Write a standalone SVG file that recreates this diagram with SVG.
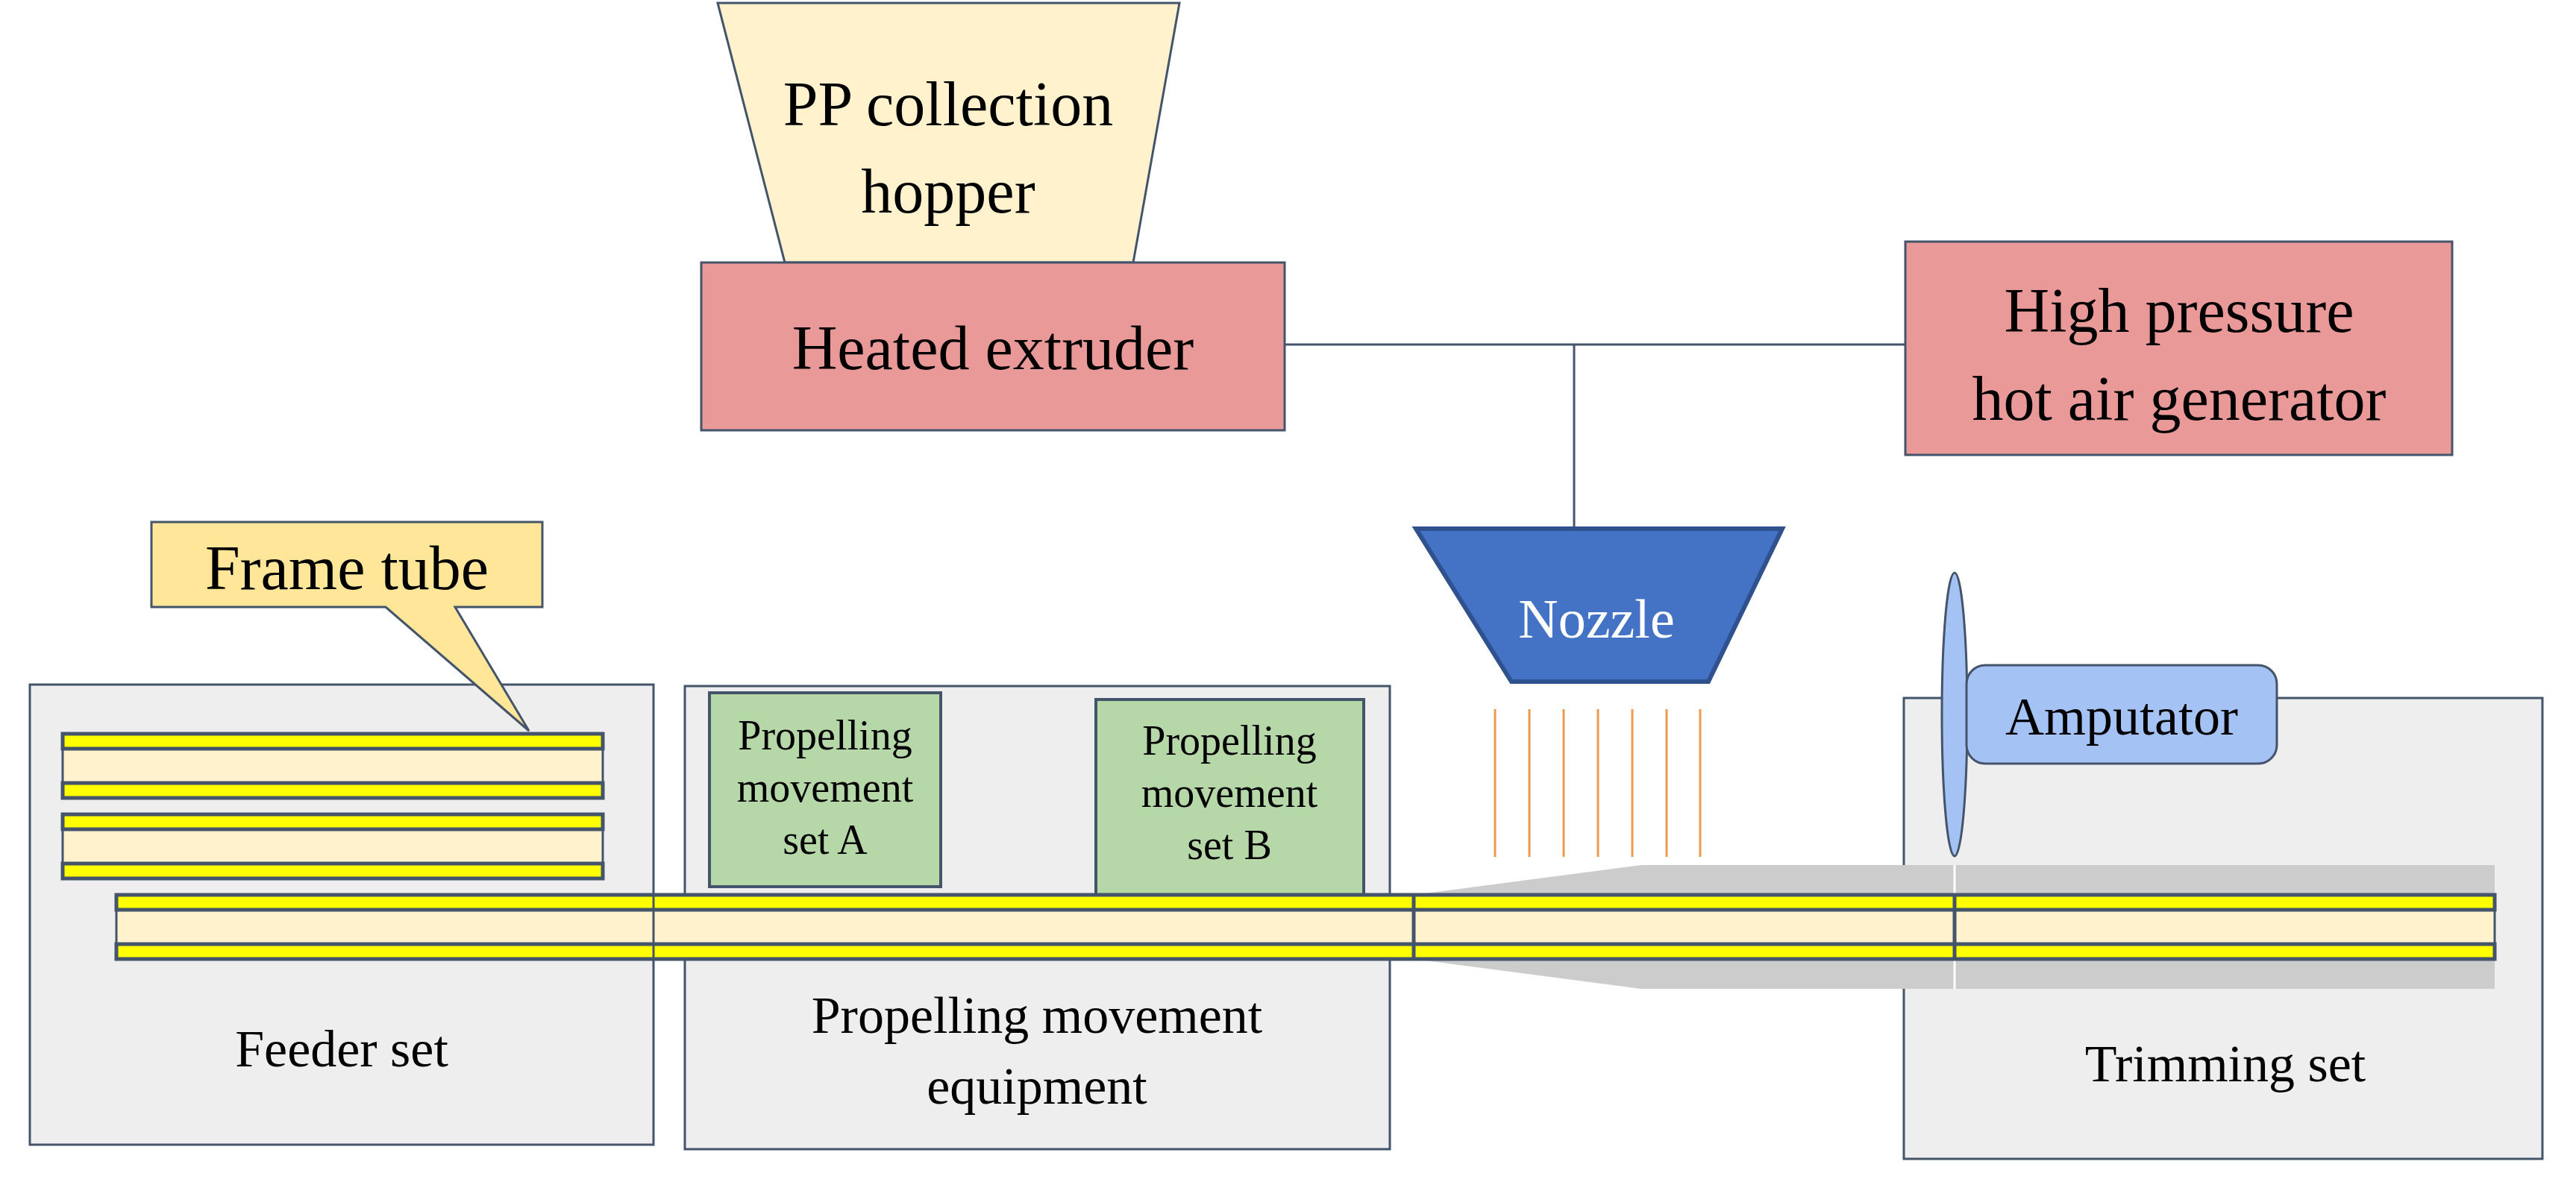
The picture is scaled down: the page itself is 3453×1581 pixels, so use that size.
<svg xmlns="http://www.w3.org/2000/svg" width="3453" height="1581" viewBox="0 0 3453 1581">
<defs>
<style>
text{font-family:"Liberation Serif","Times New Roman",serif;fill:#000;text-anchor:middle}
.box{fill:#eeeeee;stroke:#44546a;stroke-width:3}
.red{fill:#ea9999;stroke:#44546a;stroke-width:3}
.green{fill:#b6d7a8;stroke:#44546a;stroke-width:4}
.cream{fill:#fff2cc;stroke:#44546a;stroke-width:3}
.yel{fill:#ffff00;stroke:#44546a;stroke-width:5}
.con{stroke:#44546a;stroke-width:3;fill:none}
.or{stroke:#ed9b4f;stroke-width:3}
</style>
</defs>
<g id="feeder"><rect class="box" x="40" y="918" width="836" height="617"/><text x="458" y="1430" font-size="70">Feeder set</text></g>
<g id="propelling"><rect class="box" x="918" y="920" width="945" height="621"/><text x="1390" y="1385" font-size="70">Propelling movement</text><text x="1390" y="1480" font-size="70">equipment</text></g>
<g id="trimming"><rect class="box" x="2552" y="936" width="856" height="618"/><text x="2983" y="1450" font-size="70">Trimming set</text></g>
<g id="setA"><rect class="green" x="951" y="929" width="310" height="260"/><text x="1106" y="1005" font-size="56">Propelling</text><text x="1106" y="1075" font-size="56">movement</text><text x="1106" y="1145" font-size="56">set A</text></g>
<g id="setB"><rect class="green" x="1469" y="938" width="359" height="262"/><text x="1648" y="1012" font-size="56">Propelling</text><text x="1648" y="1082" font-size="56">movement</text><text x="1648" y="1152" font-size="56">set B</text></g>
<g id="coating">
<polygon points="1895,1200 2200,1160 3344,1160 3344,1200" fill="#cccccc"/>
<polygon points="1895,1286 2200,1326 3344,1326 3344,1286" fill="#cccccc"/>
<line x1="2620" y1="1160" x2="2620" y2="1326" stroke="#fff" stroke-width="3"/>
</g>
<g id="tubes">
<rect class="cream" x="84" y="984" width="724" height="86"/><rect class="yel" x="84" y="984" width="724" height="20"/><rect class="yel" x="84" y="1050" width="724" height="20"/>
<rect class="cream" x="84" y="1092" width="724" height="86"/><rect class="yel" x="84" y="1092" width="724" height="20"/><rect class="yel" x="84" y="1158" width="724" height="20"/>
<rect class="cream" x="156" y="1200" width="3188" height="86"/><rect class="yel" x="156" y="1200" width="3188" height="20"/><rect class="yel" x="156" y="1266" width="3188" height="20"/>
<line class="con" x1="876" y1="1200" x2="876" y2="1286"/>
<line x1="1895" y1="1200" x2="1895" y2="1286" stroke="#44546a" stroke-width="5"/>
<line x1="2620" y1="1200" x2="2620" y2="1286" stroke="#44546a" stroke-width="5"/>
</g>
<g id="callout"><path d="M203,700 H727 V814 H610 L709,980 L517,814 H203 Z" fill="#ffe699" stroke="#44546a" stroke-width="3"/><text x="465" y="790" font-size="84">Frame tube</text></g>
<g id="hopper"><polygon points="962,4 1581,4 1519,352 1052,352" fill="#fff2cc" stroke="#44546a" stroke-width="3"/><text x="1271" y="168" font-size="84">PP collection</text><text x="1271" y="285" font-size="84">hopper</text></g>
<g id="extruder"><rect class="red" x="940" y="352" width="782" height="225"/><text x="1331" y="495" font-size="84">Heated extruder</text></g>
<g id="generator"><rect class="red" x="2554" y="324" width="733" height="286"/><text x="2921" y="445" font-size="84">High pressure</text><text x="2921" y="563" font-size="84">hot air generator</text></g>
<g id="connectors"><polyline class="con" points="1722,462 2554,462"/><line class="con" x1="2110" y1="462" x2="2110" y2="709"/></g>
<g id="nozzle"><polygon points="1898,709 2389,709 2290,914 2026,914" fill="#4472c4" stroke="#2f528f" stroke-width="6"/><text x="2140" y="855" font-size="74" style="fill:#fff">Nozzle</text></g>
<g id="jets"><line class="or" x1="2004" y1="951" x2="2004" y2="1149"/><line class="or" x1="2050" y1="951" x2="2050" y2="1149"/><line class="or" x1="2096" y1="951" x2="2096" y2="1149"/><line class="or" x1="2142" y1="951" x2="2142" y2="1149"/><line class="or" x1="2188" y1="951" x2="2188" y2="1149"/><line class="or" x1="2234" y1="951" x2="2234" y2="1149"/><line class="or" x1="2279" y1="951" x2="2279" y2="1149"/></g>
<g id="amputator"><ellipse cx="2620" cy="958" rx="17" ry="190" fill="#a4c2f4" stroke="#44546a" stroke-width="3"/><rect x="2636" y="892" width="416" height="132" rx="25" fill="#a4c2f4" stroke="#44546a" stroke-width="3"/><text x="2844" y="985" font-size="72">Amputator</text></g>
</svg>
